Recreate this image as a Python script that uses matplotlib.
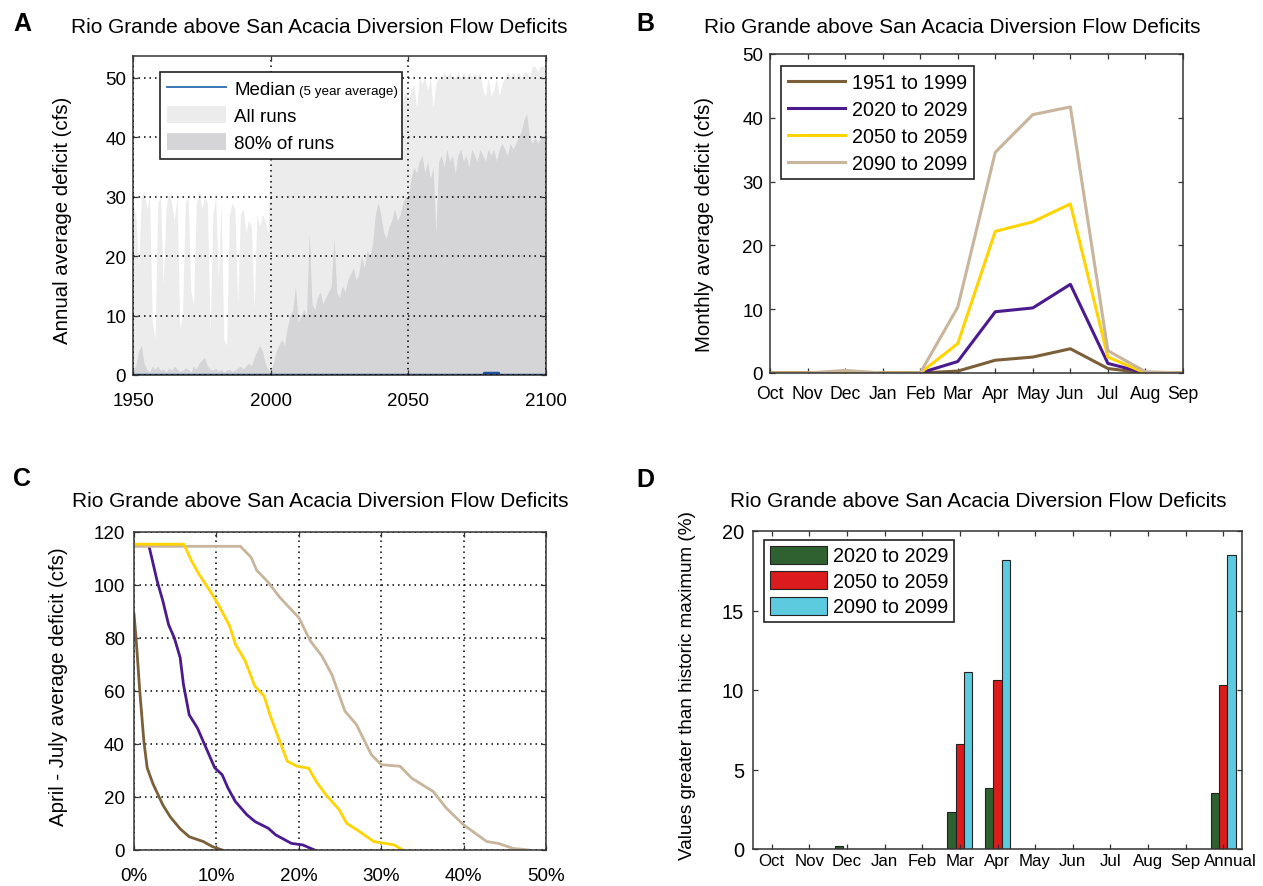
import numpy as np
import matplotlib
matplotlib.use("Agg")
import matplotlib.pyplot as plt
from matplotlib.patches import Patch
from matplotlib.lines import Line2D
from matplotlib.transforms import ScaledTranslation

plt.rcParams['font.family'] = ['Liberation Sans', 'DejaVu Sans']

W, H = 1263, 887

title = "Rio Grande above San Acacia Diversion Flow Deficits"
period_labels = ["1951 to 1999", "2020 to 2029", "2050 to 2059", "2090 to 2099"]
period_colors = ["#7a5f38", "#4b1a8f", "#ffd400", "#c8b59c"]

# ---- panel A: annual average deficit, 1950-2100 ----
years = np.arange(1950, 2101)
all_runs_max = [
    29, 27, 18, 30, 31, 28, 30, 9, 6, 29,
    30, 15, 28, 31, 29, 26, 30, 8, 10, 29,
    30, 14, 12, 29, 31, 28, 30, 29, 7, 27,
    30, 16, 29, 6, 5, 27, 29, 28, 12, 27,
    28, 24, 26, 25, 11, 27, 25, 27, 26, 24,
    38, 39, 40, 38, 41, 40, 42, 41, 40, 42,
    41, 43, 42, 40, 44, 42, 43, 41, 44, 43,
    44, 42, 45, 43, 44, 46, 44, 45, 43, 46,
    45, 44, 46, 45, 47, 45, 46, 44, 47, 46,
    45, 47, 46, 48, 46, 47, 45, 47, 46, 48,
    46, 48, 49, 45, 50, 49, 50, 48, 50, 45,
    49, 50, 50, 51, 50, 51, 50, 50, 51, 50,
    51, 50, 51, 50, 51, 50, 51, 48, 47, 50,
    47, 48, 50, 47, 49, 50, 51, 50, 51, 50,
    51, 50, 51, 51, 50, 52, 52, 51, 52, 52,
    52,
]
runs80_max = [
    1.0, 1.5, 4.0, 5.0, 2.0, 1.0, 0.5, 1.5, 1.0, 1.5,
    0.8, 1.0, 0.5, 1.2, 0.8, 1.5, 1.0, 0.6, 0.8, 1.2,
    1.0, 0.5, 1.5, 1.0, 2.0, 2.5, 3.0, 1.5, 1.0, 0.8,
    1.2, 0.6, 1.0, 0.5, 0.8, 1.0, 0.6, 0.8, 1.2, 1.5,
    1.0, 1.5, 2.0, 1.5, 3.0, 4.0, 5.0, 4.0, 2.0, 1.0,
    0.5, 2, 4, 5, 6, 5, 8, 10, 11, 15,
    9, 10, 11, 10, 24, 12, 11, 13, 14, 12,
    13, 14, 15, 23, 14, 13, 15, 14, 16, 17,
    18, 16, 17, 20, 18, 21, 20, 22, 27, 29,
    27, 24, 23, 25, 26, 28, 26, 27, 29, 30,
    30, 33, 35, 34, 36, 37, 34, 36, 33, 35,
    24, 36, 37, 35, 38, 36, 37, 34, 37, 38,
    36, 37, 35, 38, 37, 36, 38, 37, 36, 38,
    37, 38, 36, 38, 39, 38, 37, 39, 38, 39,
    40, 41, 43, 44, 40, 39, 40, 39, 40, 40,
    40,
]
median_years = np.arange(1950, 2101, 5)
median_5yr = [0, 0, 0, 0, 0, 0, 0, 0, 0, 0,
              0, 0, 0, 0, 0, 0, 0, 0, 0, 0,
              0, 0, 0, 0, 0, 0, 0.4, 0, 0, 0, 0]

# ---- panel B: monthly average deficit ----
months = ["Oct", "Nov", "Dec", "Jan", "Feb", "Mar", "Apr", "May", "Jun", "Jul", "Aug", "Sep"]
monthly_1951_1999 = [0, 0, 0, 0, 0, 0.3, 2.0, 2.5, 3.8, 0.7, 0, 0]
monthly_2020_2029 = [0, 0, 0, 0, 0, 1.8, 9.6, 10.2, 13.9, 1.5, 0, 0]
monthly_2050_2059 = [0, 0, 0, 0, 0, 4.6, 22.2, 23.7, 26.5, 2.5, 0, 0]
monthly_2090_2099 = [0, 0, 0.4, 0, 0, 10.3, 34.6, 40.5, 41.7, 3.5, 0.2, 0]

# ---- panel C: exceedance of April-July deficit ----
exc_1951_1999 = [0, 0.25, 0.7, 1.2, 1.6, 2.3, 3.5, 4.4, 5.6, 6.7, 8.4, 9.5, 10.7]
def_1951_1999 = [89, 80, 60, 41, 31, 25, 17, 12.5, 8, 5, 3.2, 1.3, 0]
exc_2020_2029 = [0, 1.8, 2.8, 3.5, 4.2, 4.9, 5.6, 6.0, 6.7, 7.7, 8.4, 9.1, 9.8,
                 10.7, 11.4, 12.3, 13.7, 14.7, 16.3, 17.2, 19.1, 20.5, 21.9]
def_2020_2029 = [115, 115, 101.6, 94, 85, 80, 72.6, 62.5, 51, 46, 41, 36, 31,
                 28.4, 23.4, 18.3, 13.3, 10.7, 8.2, 5.7, 2.5, 1.9, 0]
exc_2050_2059 = [0, 6.05, 7.0, 7.9, 9.07, 10.2, 11.6, 12.3, 13.5, 14.65, 15.8, 16.5, 17.4,
                 18.6, 19.8, 21.2, 22.1, 23.3, 24.9, 25.8, 27.4, 29.1, 30.5, 31.6, 32.6]
def_2050_2059 = [115.4, 115.4, 109, 104, 98.5, 92.8, 84.6, 77.7, 71.3, 61.9, 58, 51, 43.4,
                 33.5, 31.6, 30.9, 25.9, 20.8, 15.2, 10.1, 6.9, 3.2, 2.5, 1.9, 0]
exc_2090_2099 = [0, 12.9, 14.2, 14.9, 16.3, 17.7, 20.0, 21.4, 22.8, 24.0, 25.6, 27.0, 28.8,
                 30.0, 32.3, 33.7, 36.3, 37.9, 40.0, 42.8, 44.2, 46.0, 47.9]
def_2090_2099 = [114.6, 114.6, 110.5, 105.5, 101, 95.3, 87.7, 78.9, 73.2, 66.3, 52.4, 47.3, 36,
                 32.2, 31.6, 27.1, 22.1, 15.8, 9.5, 3.2, 2.5, 0.6, 0]

# ---- panel D: % of values greater than historic maximum ----
bar_labels = months + ["Annual"]
above_2020_2029 = [0, 0, 0.2, 0, 0, 2.35, 3.85, 0, 0, 0, 0, 0, 3.5]
above_2050_2059 = [0, 0, 0, 0, 0, 6.6, 10.6, 0, 0, 0, 0, 0, 10.3]
above_2090_2099 = [0, 0, 0, 0, 0, 11.15, 18.2, 0, 0, 0, 0, 0, 18.5]
bar_colors = ["#2f6130", "#dc1c1c", "#5ccbe0"]


def px_axes(left, top, right, bottom):
    return fig.add_axes([left / W, 1 - bottom / H, (right - left) / W, (bottom - top) / H])


def matlab_style(ax):
    for s in ax.spines.values():
        s.set_color("#333333")
        s.set_linewidth(1.1)
    ax.tick_params(direction="in", top=True, right=True, length=3.5, width=0.9,
                   colors="#333333", labelcolor="black")


dotted = (0, (1, 2.6))

fig = plt.figure(figsize=(W / 100, H / 100), dpi=100)

# ===== A =====
axA = px_axes(133, 57, 546, 376)
axA.fill_between(years, 0, all_runs_max, color="#ececec", lw=0)
axA.fill_between(years, 0, runs80_max, color="#d5d5d7", lw=0)
axA.plot(median_years, median_5yr, drawstyle="steps-mid", color="#1d4f9a", lw=2.5,
         solid_capstyle="butt")
axA.set_xlim(1950, 2100)
axA.set_ylim(0, 53.7)
axA.set_xticks([1950, 2000, 2050, 2100])
axA.set_yticks(range(0, 51, 10))
matlab_style(axA)
axA.tick_params(axis="x", labelsize=13.5, pad=12)
axA.tick_params(axis="y", labelsize=13.5, pad=5)
axA.grid(True, linestyle=dotted, color="black", lw=1.1)
axA.set_axisbelow(False)
legA = axA.legend(
    [Line2D([], [], color="#2b6cb0", lw=1.3),
     Patch(facecolor="#ececec", edgecolor="none"),
     Patch(facecolor="#d5d5d7", edgecolor="none")],
    ["Median", "All runs", "80% of runs"],
    loc="upper left", bbox_to_anchor=(160 / W, 1 - 73 / H, (402 - 160) / W, 0),
    bbox_transform=fig.transFigure, mode="expand", borderaxespad=0,
    fontsize=13.5, handlelength=3.1, handleheight=1.0, labelspacing=0.42,
    borderpad=0.4, handletextpad=0.45, fancybox=False, framealpha=1,
    edgecolor="#222222")
legA.get_frame().set_linewidth(1.2)
axA.annotate("(5 year average)", xy=(1, 0), xycoords=legA.get_texts()[0],
             xytext=(2.5, 0.8), textcoords="offset points", fontsize=9.6,
             ha="left", va="bottom", zorder=10, annotation_clip=False)

# ===== B =====
axB = px_axes(770, 55, 1183, 374)
month_pos = np.arange(1, 13)
for vals, lab, col in zip([monthly_1951_1999, monthly_2020_2029, monthly_2050_2059, monthly_2090_2099],
                          period_labels, period_colors):
    axB.plot(month_pos, vals, color=col, lw=2.2, label=lab)
axB.set_xlim(1, 12)
axB.set_ylim(0, 50)
axB.set_xticks(month_pos)
axB.set_xticklabels(months)
axB.set_yticks(range(0, 51, 10))
matlab_style(axB)
axB.tick_params(axis="x", labelsize=12.7, pad=9)
axB.tick_params(axis="y", labelsize=13.5, pad=5)
legB = axB.legend(loc="upper left", bbox_to_anchor=(781 / W, 1 - 67 / H),
                  bbox_transform=fig.transFigure, borderaxespad=0, fontsize=14.2,
                  handlelength=2.9, labelspacing=0.4, borderpad=0.35, handletextpad=0.35,
                  fancybox=False, framealpha=1, edgecolor="#222222")
legB.get_frame().set_linewidth(1.2)

# ===== C =====
axC = px_axes(134, 533, 546, 851)
axC.plot(exc_1951_1999, def_1951_1999, color=period_colors[0], lw=2)
axC.plot(exc_2020_2029, def_2020_2029, color=period_colors[1], lw=2)
axC.plot(exc_2090_2099, def_2090_2099, color=period_colors[3], lw=2)
axC.plot(exc_2050_2059, def_2050_2059, color=period_colors[2], lw=2)
axC.set_xlim(0, 50)
axC.set_ylim(0, 120)
axC.set_xticks(range(0, 51, 10))
axC.set_xticklabels([f"{v}%" for v in range(0, 51, 10)])
axC.set_yticks(range(0, 121, 20))
matlab_style(axC)
axC.tick_params(axis="x", labelsize=13.5, pad=12)
axC.tick_params(axis="y", labelsize=13.5, pad=6.5)
axC.grid(True, linestyle=dotted, color="black", lw=1.1)
axC.set_axisbelow(True)

# ===== D =====
axD = px_axes(753, 532, 1242, 850)
cat_pos = np.arange(1, 14)
bw = 0.22
for i, (vals, lab, col) in enumerate(zip([above_2020_2029, above_2050_2059, above_2090_2099],
                                         period_labels[1:], bar_colors)):
    axD.bar(cat_pos + (i - 1) * bw, vals, width=bw, color=col, edgecolor="#222222",
            linewidth=0.8, label=lab)
axD.set_xlim(0.5, 13.5)
axD.set_ylim(0, 20)
axD.set_xticks(cat_pos)
axD.set_xticklabels(bar_labels)
axD.set_yticks(range(0, 21, 5))
matlab_style(axD)
axD.tick_params(axis="x", labelsize=12.2, pad=3)
axD.tick_params(axis="y", labelsize=14.4, pad=6.5)
annual_lbl = axD.get_xticklabels()[-1]
annual_lbl.set_transform(annual_lbl.get_transform() + ScaledTranslation(5 / 72, 0, fig.dpi_scale_trans))
legD = axD.legend(loc="upper left", bbox_to_anchor=(764 / W, 1 - 541 / H),
                  bbox_transform=fig.transFigure, borderaxespad=0, fontsize=14.2,
                  handlelength=2.9, handleheight=1.0, labelspacing=0.3, borderpad=0.3,
                  handletextpad=0.3, fancybox=False, framealpha=1, edgecolor="#222222")
legD.get_frame().set_linewidth(1.2)
for p in legD.get_patches():
    p.set_edgecolor("#222222")

# ===== titles, panel letters, axis labels =====
for x, yb in [(71, 33), (704, 33), (72, 507), (730, 507)]:
    fig.text(x / W, 1 - yb / H, title, fontsize=15, ha="left", va="baseline")
for letter, x, y in [("A", 13, 12), ("B", 636, 12), ("C", 13, 467), ("D", 636, 468)]:
    fig.text(x / W, 1 - y / H, letter, fontsize=18, fontweight="bold", ha="left", va="top")
for lab, x, y, fs in [("Annual average deficit (cfs)", 62, 220, 14.7),
                      ("Monthly average deficit (cfs)", 704, 225, 14.7),
                      ("April - July average deficit (cfs)", 58, 687, 14.7),
                      ("Values greater than historic maximum (%)", 688, 686, 13.6)]:
    fig.text(x / W, 1 - y / H, lab, fontsize=fs, rotation=90, ha="center", va="center")

fig.savefig("out.png", dpi=100)
